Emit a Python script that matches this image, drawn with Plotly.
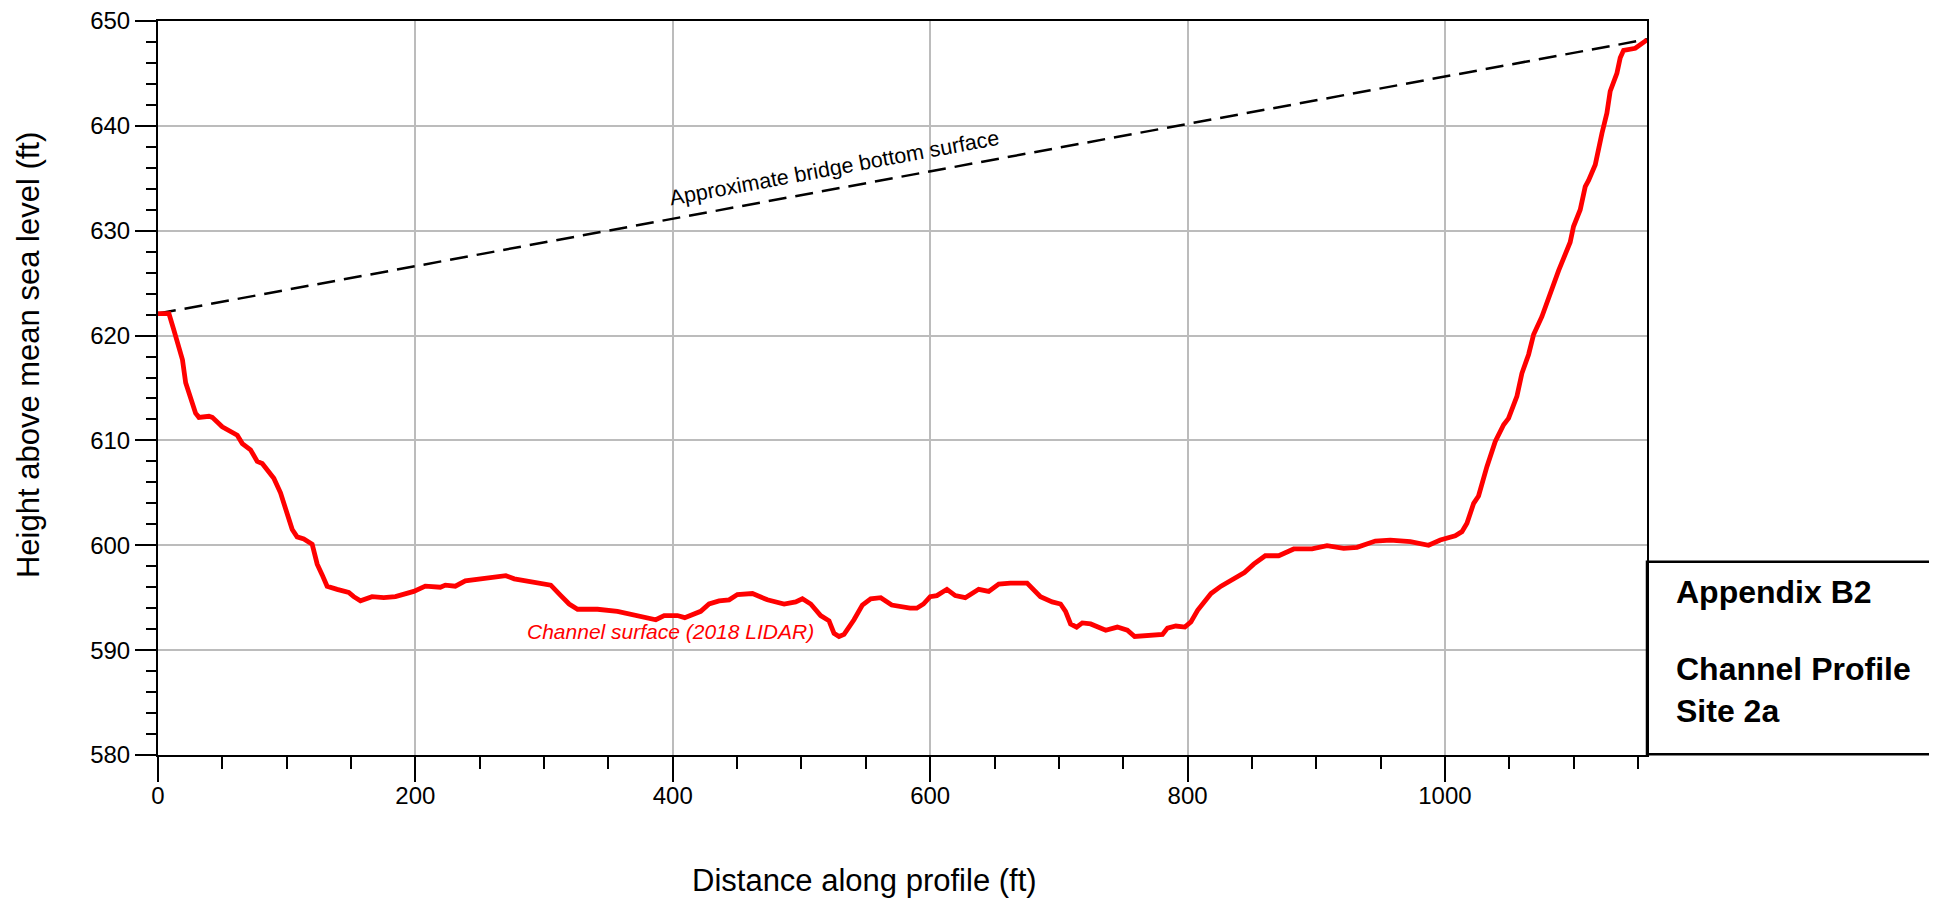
import plotly.graph_objects as go

# Channel surface profile (2018 LIDAR): distance (ft) and elevation (ft)
dist_ft = [0, 8.5, 12.4, 19, 21.5, 25.4, 29.2, 31.8, 39.6, 42.2, 49.9, 61.6, 65.5, 71.9, 77.1, 81, 84.9, 90,
           95.2, 100.4, 104.3, 108.1, 113.3, 119.8, 123.7, 127.5, 131.4, 139.2, 148.2, 152.1, 157.3, 166.3,
           175.4, 184.5, 198.7, 207.7, 219.4, 223.3, 231.0, 238.8, 253, 261.2, 270.3, 276.8, 287.1, 297.5,
           305.2, 313.0, 319.5, 326.0, 341.5, 357.0, 367.4, 377.7, 386.8, 393.3, 403.6, 409.3, 416.6, 421.7,
           428.2, 436.0, 443.8, 450.2, 461.9, 473.5, 486.5, 495.5, 500.7, 507.2, 514.9, 521.4, 525.3, 529.2,
           533.1, 540.8, 547.3, 553.8, 561.6, 570.1, 584.4, 589.6, 594.8, 600, 605.2, 613.0, 619.5, 627.3,
           637.7, 645.5, 653.3, 662.3, 675.3, 685.7, 694.8, 701.3, 705.2, 709.1, 713.8, 718.2, 724.7, 731.2,
           736.4, 745.4, 753.2, 758.9, 766.2, 780.5, 784.4, 790.9, 797.9, 802.6, 807.8, 813.0, 818.2, 826.0,
           833.8, 844.2, 851.4, 860.4, 870.8, 882.5, 896.7, 908.4, 921.3, 931.7, 945.9, 957.5, 973.1, 987.3,
           996.4, 1008.0, 1013.2, 1017.1, 1022.3, 1026.1, 1032.6, 1039.1, 1045.6, 1049.4, 1055.9, 1059.8,
           1065.0, 1068.9, 1075.3, 1079.2, 1084.4, 1088.3, 1097.3, 1099.9, 1105.1, 1109.0, 1111.6, 1116.8,
           1122.0, 1125.8, 1128.4, 1133.6, 1136.2, 1138.8, 1147.9, 1151.8, 1157]
elev_ft = [622.1, 622.1, 620.5, 617.7, 615.5, 613.9, 612.6, 612.2, 612.3, 612.2, 611.3, 610.5, 609.7, 609.1,
           608.0, 607.8, 607.2, 606.4, 605.0, 603.1, 601.5, 600.8, 600.6, 600.1, 598.2, 597.2, 596.1, 595.8,
           595.5, 595.1, 594.7, 595.1, 595.0, 595.1, 595.6, 596.1, 596.0, 596.2, 596.1, 596.6, 596.8, 597.0,
           597.1, 596.8, 596.6, 596.4, 596.2, 595.2, 594.4, 593.9, 593.9, 593.7, 593.4, 593.2, 592.9, 593.3,
           593.3, 593.1, 593.4, 593.7, 594.4, 594.7, 594.8, 595.3, 595.4, 594.8, 594.4, 594.6, 594.9, 594.4,
           593.3, 592.8, 591.6, 591.3, 591.5, 592.9, 594.3, 594.9, 595.0, 594.3, 594.0, 594.0, 594.4, 595.1,
           595.2, 595.8, 595.2, 595.0, 595.8, 595.6, 596.3, 596.4, 596.4, 595.1, 594.6, 594.4, 593.7, 592.5,
           592.2, 592.6, 592.5, 592.2, 591.9, 592.2, 591.9, 591.3, 591.4, 591.5, 592.1, 592.3, 592.2, 592.7,
           593.8, 594.6, 595.4, 596.1, 596.7, 597.4, 598.2, 599.0, 599.0, 599.65, 599.65, 599.97, 599.7,
           599.8, 600.4, 600.5, 600.35, 600.0, 600.5, 600.9, 601.3, 602.1, 604.0, 604.7, 607.5, 609.9, 611.5,
           612.1, 614.2, 616.4, 618.2, 620.1, 621.8, 623.2, 624.8, 626.2, 628.9, 630.4, 632.0, 634.2, 634.8,
           636.3, 639.3, 641.2, 643.3, 645.0, 646.5, 647.2, 647.4, 647.8, 648.2]

# Approximate bridge bottom surface (straight line between end points)
bridge_dist_ft = [0, 1157]
bridge_elev_ft = [622.1, 648.25]

x_ticks = [0, 200, 400, 600, 800, 1000]
y_ticks = [580, 590, 600, 610, 620, 630, 640, 650]

FONT = "Liberation Sans, Arial, sans-serif"

fig = go.Figure()
fig.add_trace(go.Scatter(x=bridge_dist_ft, y=bridge_elev_ft, mode="lines",
                         line=dict(color="black", width=2.5, dash="18px,9px"),
                         hoverinfo="skip", showlegend=False))
fig.add_trace(go.Scatter(x=dist_ft, y=elev_ft, mode="lines",
                         line=dict(color="#ff0000", width=4.8),
                         showlegend=False))

axis_common = dict(showline=True, linecolor="black", linewidth=2, mirror=True,
                   showgrid=True, gridcolor="#bcbcbc", gridwidth=2,
                   ticks="outside", tickcolor="black", tickwidth=2,
                   tickfont=dict(family=FONT, size=24, color="black"),
                   ticklabeloverflow="allow",
                   zeroline=False, automargin=False)

fig.update_xaxes(range=[0, 1157], tickvals=x_ticks, ticklen=25, ticklabelstandoff=-7,
                 minor=dict(dtick=50, ticklen=12, tickwidth=2, tickcolor="black",
                            ticks="outside", showgrid=False),
                 **axis_common)
fig.update_yaxes(range=[580, 650], tickvals=y_ticks, ticklen=21,
                 minor=dict(dtick=2, ticklen=10, tickwidth=2, tickcolor="black",
                            ticks="outside", showgrid=False),
                 **axis_common)

annotations = [
    dict(text="Height above mean sea level (ft)", xref="paper", yref="paper",
         x=-0.0866, y=0.545, textangle=-90, showarrow=False,
         xanchor="center", yanchor="middle", font=dict(family=FONT, size=31, color="black")),
    dict(text="Distance along profile (ft)", xref="paper", yref="paper",
         x=0.4748, y=-0.1703, showarrow=False,
         xanchor="center", yanchor="middle", font=dict(family=FONT, size=31, color="black")),
    dict(text="Approximate bridge bottom surface", xref="x", yref="y",
         x=526.0, y=636.0, textangle=-10.5, showarrow=False,
         font=dict(family=FONT, size=21.5, color="black")),
    dict(text="<i>Channel surface (2018 LIDAR)</i>", xref="x", yref="y",
         x=398.2, y=591.76, showarrow=False,
         font=dict(family=FONT, size=21, color="#ff0000")),
    dict(text="<b>Appendix B2</b>", xref="paper", yref="paper",
         x=1.018, y=0.2214, xanchor="left", yanchor="middle", showarrow=False,
         font=dict(family=FONT, size=32, color="black")),
    dict(text="<b>Channel Profile</b>", xref="paper", yref="paper",
         x=1.018, y=0.1165, xanchor="left", yanchor="middle", showarrow=False,
         font=dict(family=FONT, size=32, color="black")),
    dict(text="<b>Site 2a</b>", xref="paper", yref="paper",
         x=1.018, y=0.0603, xanchor="left", yanchor="middle", showarrow=False,
         font=dict(family=FONT, size=32, color="black")),
]

# The page body has an 8px default margin; the figure is sized so the
# plot area lands at the same place as in the reference picture.
fig.update_layout(
    width=1929, height=891, autosize=False,
    margin=dict(l=150, r=290, t=13, b=144),
    paper_bgcolor="white", plot_bgcolor="white",
    font=dict(family=FONT, color="black"),
    annotations=annotations,
    shapes=[dict(type="rect", xref="paper", yref="paper",
                 x0=1.0, x1=1.1927, y0=0.0010, y1=0.2634,
                 line=dict(color="black", width=2.5), fillcolor="rgba(0,0,0,0)")],
)

fig.write_html("out.html")
